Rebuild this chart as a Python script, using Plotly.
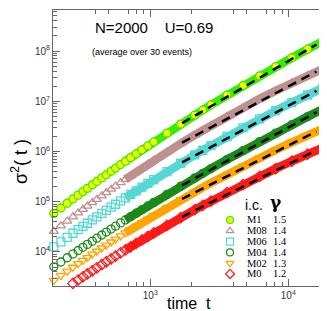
import plotly.graph_objects as go

# time values (shared sampling grid)
t = [200, 225, 250, 275, 300, 325, 350, 380, 410, 445, 480, 520, 560, 610, 660, 720, 790, 870, 960, 1060,
     1320, 1660, 2100, 2400, 2750, 3600, 4700, 6200, 8100, 10600, 13800, 17800, 20000]

m1 = [5.87e4, 7.51e4, 9.32e4, 1.134e5, 1.353e5, 1.591e5, 1.847e5, 2.18e5, 2.53e5, 2.98e5, 3.45e5, 4.04e5,
      4.67e5, 5.50e5, 6.40e5, 7.55e5, 9.00e5, 1.079e6, 1.297e6, 1.557e6, 2.33e6, 3.51e6, 5.30e6, 6.68e6,
      8.44e6, 1.328e7, 2.06e7, 3.21e7, 4.87e7, 7.34e7, 1.086e8, 1.569e8, 1.851e8]
m08 = [2.58e4, 3.30e4, 4.11e4, 5.01e4, 5.98e4, 7.04e4, 8.17e4, 9.62e4, 1.118e5, 1.314e5, 1.522e5, 1.776e5,
       2.05e5, 2.41e5, 2.79e5, 3.29e5, 3.90e5, 4.65e5, 5.56e5, 6.64e5, 9.76e5, 1.443e6, 2.13e6, 2.65e6,
       3.30e6, 5.01e6, 7.48e6, 1.116e7, 1.619e7, 2.32e7, 3.25e7, 4.45e7, 5.11e7]
m06 = [1.265e4, 1.595e4, 1.958e4, 2.36e4, 2.78e4, 3.24e4, 3.73e4, 4.36e4, 5.02e4, 5.85e4, 6.72e4, 7.79e4,
       8.91e4, 1.040e5, 1.198e5, 1.399e5, 1.648e5, 1.951e5, 2.32e5, 2.75e5, 3.99e5, 5.83e5, 8.55e5, 1.058e6,
       1.311e6, 1.987e6, 2.96e6, 4.44e6, 6.48e6, 9.37e6, 1.331e7, 1.849e7, 2.14e7]
m04 = [5.07e3, 6.32e3, 7.67e3, 9.14e3, 1.071e4, 1.239e4, 1.416e4, 1.642e4, 1.881e4, 2.18e4, 2.49e4, 2.86e4,
       3.26e4, 3.79e4, 4.34e4, 5.04e4, 5.91e4, 6.97e4, 8.24e4, 9.73e4, 1.401e5, 2.04e5, 2.98e5, 3.68e5,
       4.56e5, 6.93e5, 1.041e6, 1.573e6, 2.32e6, 3.41e6, 4.94e6, 6.99e6, 8.18e6]
m02 = [2.72e3, 3.41e3, 4.16e3, 4.97e3, 5.85e3, 6.78e3, 7.77e3, 9.03e3, 1.035e4, 1.199e4, 1.372e4, 1.581e4,
       1.801e4, 2.09e4, 2.40e4, 2.78e4, 3.26e4, 3.83e4, 4.52e4, 5.32e4, 7.61e4, 1.095e5, 1.576e5, 1.931e5,
       2.37e5, 3.51e5, 5.13e5, 7.51e5, 1.072e6, 1.515e6, 2.10e6, 2.85e6, 3.27e6]
m0 = [None, None, 1.99e3, 2.37e3, 2.77e3, 3.21e3, 3.66e3, 4.23e3, 4.84e3, 5.59e3, 6.37e3, 7.32e3,
      8.31e3, 9.61e3, 1.097e4, 1.270e4, 1.482e4, 1.737e4, 2.04e4, 2.39e4, 3.39e4, 4.85e4, 6.93e4, 8.45e4,
      1.032e5, 1.519e5, 2.20e5, 3.21e5, 4.55e5, 6.40e5, 8.84e5, 1.194e6, 1.366e6]

# power-law fits (late-time)
t_fit = [1700, 16000]
fit_m1 = [3.66e6, 1.346e8]
fit_m08 = [1.502e6, 3.91e7]
fit_m06 = [6.07e5, 1.613e7]
fit_m04 = [2.12e5, 6.05e6]
fit_m02 = [1.137e5, 2.515e6]
fit_m0 = [5.02e4, 1.054e6]

labels = ["M1", "M08", "M06", "M04", "M02", "M0"]
gammas = ["1.5", "1.4", "1.4", "1.4", "1.3", "1.2"]

x_tickvals = [1e3, 1e4]
x_ticktext = ["10<sup>3</sup>", "10<sup>4</sup>"]
y_tickvals = [1e4, 1e5, 1e6, 1e7, 1e8]
y_ticktext = ["10<sup>4</sup>", "10<sup>5</sup>", "10<sup>6</sup>", "10<sup>7</sup>", "10<sup>8</sup>"]

series = [m1, m08, m06, m04, m02, m0]
fits = [fit_m1, fit_m08, fit_m06, fit_m04, fit_m02, fit_m0]
colors = ["#3cec00", "#bf9090", "#55d8d4", "#1a8a1a", "#ffa500", "#ff1a1a"]
fill_colors = ["#f2ff00", None, None, None, None, None]
symbols = ["circle", "triangle-up-open", "square-open", "circle-open", "triangle-down-open", "diamond-open"]
band_start = 14

fig = go.Figure()

for s, c, fc, sym in zip(series, colors, fill_colors, symbols):
    fig.add_trace(go.Scatter(x=t[band_start:], y=s[band_start:], mode="lines",
                             line=dict(color=c, width=8.5), showlegend=False, hoverinfo="skip"))
    fig.add_trace(go.Scatter(x=t, y=s, mode="markers", cliponaxis=False,
                             marker=dict(symbol=sym, size=8, color=fc or c, line=dict(color=c, width=1.3)),
                             showlegend=False))

for f in fits:
    fig.add_trace(go.Scatter(x=t_fit, y=f, mode="lines",
                             line=dict(color="black", width=2.5, dash="9px,6px"), showlegend=False))

# compact legend: markers on a helper axis, one row per series
rows = list(range(len(labels)))
for i, (c, fc, sym) in enumerate(zip(colors, fill_colors, symbols)):
    fig.add_trace(go.Scatter(x=[0], y=[rows[i]], xaxis="x2", yaxis="y2", mode="markers",
                             marker=dict(symbol=sym, size=7, color=fc or c, line=dict(color=c, width=1.2)),
                             showlegend=False))

serif = dict(family="Liberation Serif", size=10.5, color="black")
annotations = []
for i in rows:
    annotations.append(dict(x=0.693, y=rows[i], xref="paper", yref="y2", text=labels[i], showarrow=False,
                            xanchor="left", yanchor="middle", font=serif))
    annotations.append(dict(x=0.787, y=rows[i], xref="paper", yref="y2", text=gammas[i], showarrow=False,
                            xanchor="left", yanchor="middle", font=serif))

annotations += [
    dict(x=0.686, y=0.293, xref="paper", yref="paper", text="i.c.", showarrow=False, xanchor="left",
         yanchor="middle", font=dict(family="Liberation Sans", size=14, color="black")),
    dict(x=0.806, y=0.305, xref="paper", yref="paper", text="<b>γ</b>", showarrow=False, xanchor="center",
         yanchor="middle", font=dict(family="DejaVu Serif", size=17, color="black")),
    dict(x=0.144, y=0.935, xref="paper", yref="paper", text="N=2000&nbsp;&nbsp;&nbsp;&nbsp;U=0.69",
         showarrow=False, xanchor="left", yanchor="middle",
         font=dict(family="Liberation Sans", size=15, color="black")),
    dict(x=0.135, y=0.848, xref="paper", yref="paper", text="(average over 30 events)", showarrow=False,
         xanchor="left", yanchor="middle", font=dict(family="Liberation Sans", size=9, color="black")),
    dict(x=0.49, y=-0.063, xref="paper", yref="paper", text="time&nbsp;&nbsp;t", showarrow=False,
         xanchor="center", yanchor="middle", font=dict(family="Liberation Sans", size=16, color="black")),
    dict(x=-0.118, y=0.45, xref="paper", yref="paper", text="σ<sup>2</sup>(&nbsp;t&nbsp;)", showarrow=False,
         textangle=-90, xanchor="center", yanchor="middle",
         font=dict(family="Liberation Sans", size=18, color="black")),
]

x_minor = [400, 500, 700, 800, 900, 2000, 4000, 5000, 7000, 8000, 9000]
y_minor = [k * 10 ** e for e in range(3, 9) for k in range(2, 10)]

axis_common = dict(showline=True, linecolor="#666", linewidth=1, mirror="ticks", ticks="inside",
                   tickcolor="#666", ticklen=7, showgrid=False, zeroline=False, tickmode="array",
                   tickfont=dict(family="Liberation Sans", size=10, color="#333"))

fig.update_layout(
    width=327, height=311,
    margin=dict(l=45, r=5, t=2, b=33),
    paper_bgcolor="white", plot_bgcolor="white",
    showlegend=False,
    xaxis=dict(type="log", range=[2.295, 4.302], tickvals=x_tickvals, ticktext=x_ticktext,
               minor=dict(ticks="inside", ticklen=4, tickcolor="#666", tickvals=x_minor, showgrid=False),
               **axis_common),
    yaxis=dict(type="log", range=[3.323, 8.816], tickvals=y_tickvals, ticktext=y_ticktext,
               minor=dict(ticks="inside", ticklen=4, tickcolor="#666", tickvals=y_minor, showgrid=False),
               **axis_common),
    xaxis2=dict(domain=[0.62, 0.658], range=[-1, 1], anchor="y2", visible=False, fixedrange=True),
    yaxis2=dict(domain=[0.0239, 0.2587], range=[5.5, -0.5], anchor="x2", visible=False, fixedrange=True),
    annotations=annotations,
)

fig.write_html("out.html")
